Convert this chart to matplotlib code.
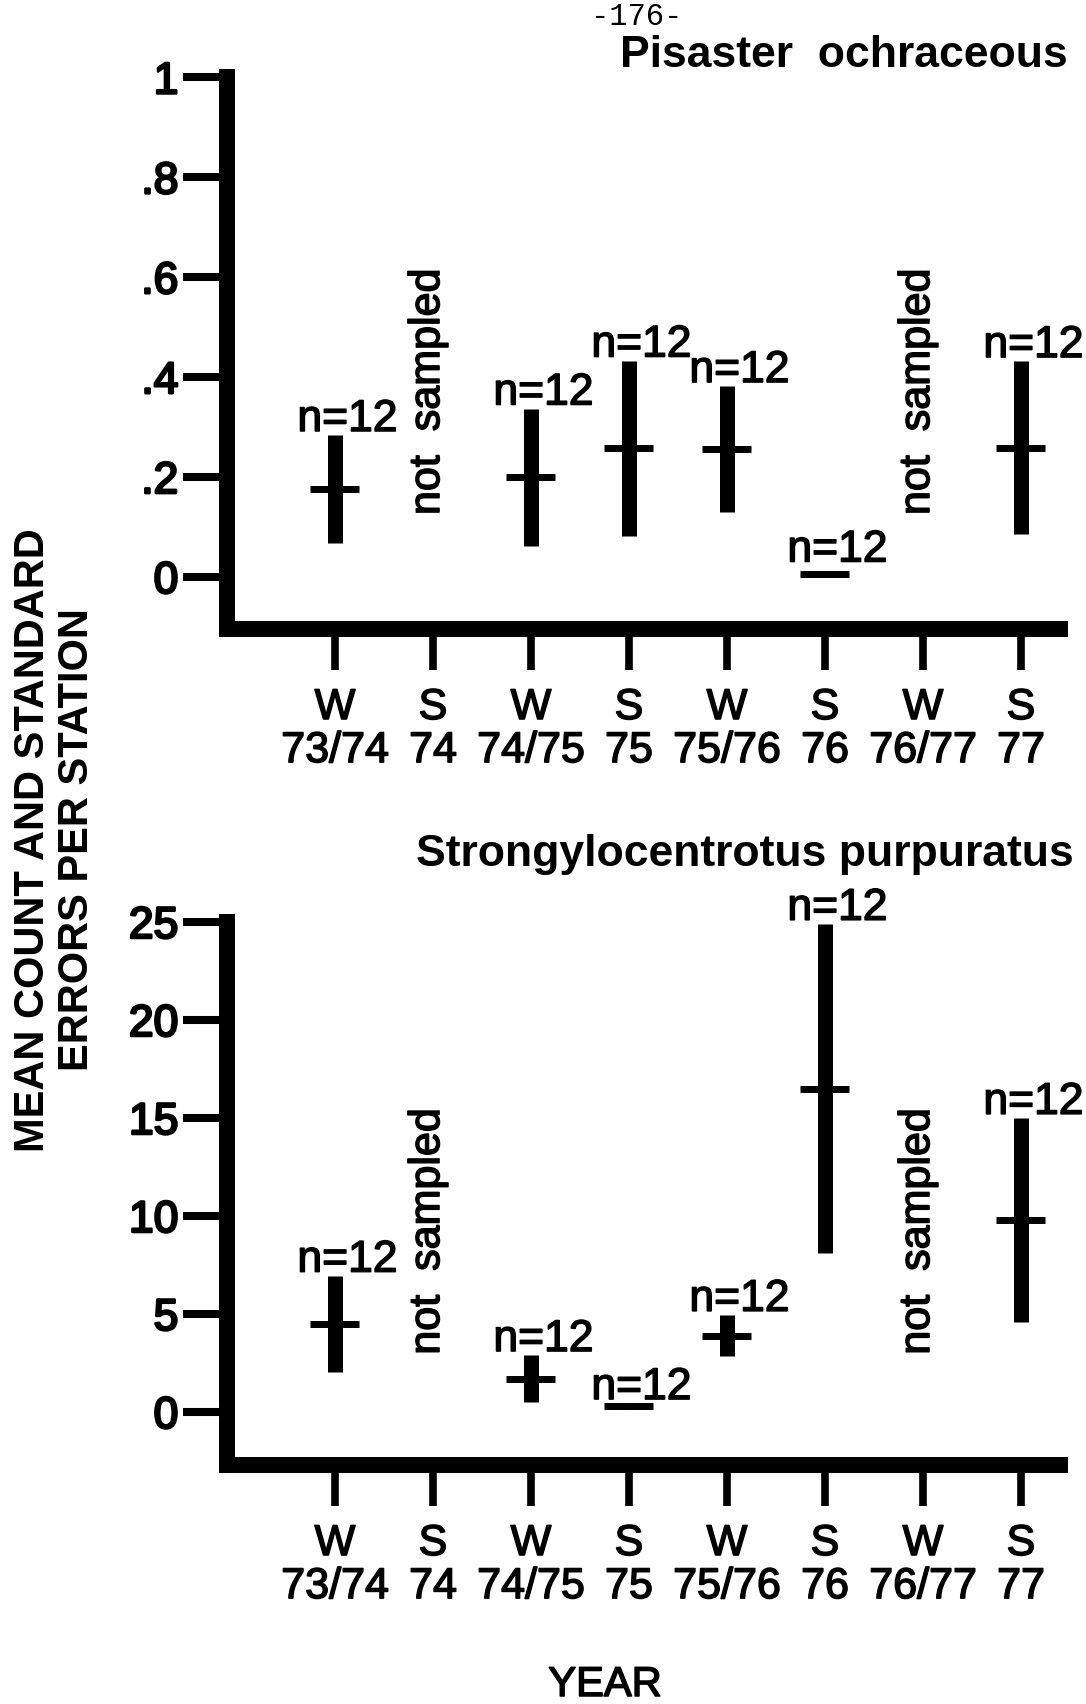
import numpy as np
import matplotlib
matplotlib.use("Agg")
import matplotlib.pyplot as plt
import matplotlib.patheffects as pe
from matplotlib.transforms import blended_transform_factory

plt.rcParams['font.family'] = ['Liberation Sans', 'DejaVu Sans']

# Sampling periods (winter / summer)
categories = ["W\n73/74", "S\n74", "W\n74/75", "S\n75", "W\n75/76", "S\n76", "W\n76/77", "S\n77"]
sampled = [True, False, True, True, True, True, False, True]
n_stations = [12, 0, 12, 12, 12, 12, 0, 12]

# Pisaster ochraceous: mean count and standard error per station
pisaster_mean = [0.176, np.nan, 0.200, 0.258, 0.256, 0.006, np.nan, 0.259]
pisaster_se = [0.108, np.nan, 0.137, 0.175, 0.126, 0.0, np.nan, 0.173]
pisaster_ticks = [0, 0.2, 0.4, 0.6, 0.8, 1]
pisaster_ticklabels = ["0", ".2", ".4", ".6", ".8", "1"]

# Strongylocentrotus purpuratus: mean count and standard error per station
urchin_mean = [4.5, np.nan, 1.7, 0.3, 3.9, 16.5, np.nan, 9.8]
urchin_se = [2.45, np.nan, 1.2, 0.15, 1.05, 8.4, np.nan, 5.2]
urchin_ticks = [0, 5, 10, 15, 20, 25]
urchin_ticklabels = ["0", "5", "10", "15", "20", "25"]

# Slightly heavier strokes for the lettering
heavy = [pe.withStroke(linewidth=1.1, foreground='black')]

FW, FH = 1086, 1704
fig = plt.figure(figsize=(FW / 100, FH / 100), dpi=100)

left, width = 0.2090, 0.7672
ax_top = fig.add_axes([left, 0.63087, width, 0.32365])
ax_bot = fig.add_axes([left, 0.14026, width, 0.31866])


def draw_panel(ax, means, ses, ticks, ticklabels, ylim):
    x = np.arange(len(categories))
    ax.set_xlim(-1.102, 7.40)
    ax.set_ylim(*ylim)
    blend = blended_transform_factory(ax.transData, ax.transAxes)
    for i in x:
        if not sampled[i]:
            ax.text(i - 0.05, 0.43, "not  sampled", rotation=90, transform=blend,
                    ha='center', va='center', fontsize=31, path_effects=heavy)
            continue
        m, s = means[i], ses[i]
        if s > 0:
            ax.vlines(i, m - s, m + s, lw=10.8, color='black', capstyle='butt')
        ax.hlines(m, i - 0.25, i + 0.25, lw=5, color='black', capstyle='butt')
        # label sits just above the error bar, or clear of a lone mean mark
        dy = 3 if s > 0 else 9
        ax.annotate(f"n={n_stations[i]}", (i, m + s), xytext=(9, dy),
                    textcoords='offset points', ha='center', va='baseline',
                    fontsize=32, path_effects=heavy)

    for side in ('top', 'right'):
        ax.spines[side].set_visible(False)
    for side in ('left', 'bottom'):
        ax.spines[side].set_linewidth(11.5)
        ax.spines[side].set_capstyle('projecting')

    ax.set_yticks(ticks, ticklabels)
    ax.tick_params(axis='y', direction='out', length=32, width=5.8, pad=3,
                   labelsize=32)
    ax.set_xticks(x, categories)
    ax.tick_params(axis='x', direction='out', length=29.5, width=5.5, pad=13,
                   labelsize=31)
    for lab in ax.get_xticklabels():
        lab.set_linespacing(1.1)
        lab.set_path_effects(heavy)
    for lab in ax.get_yticklabels():
        lab.set_path_effects([pe.withStroke(linewidth=1.8, foreground='black')])


draw_panel(ax_top, pisaster_mean, pisaster_se, pisaster_ticks,
           pisaster_ticklabels, (-0.104, 1.0))
draw_panel(ax_bot, urchin_mean, urchin_se, urchin_ticks,
           urchin_ticklabels, (-2.70, 25))

fig.text(637 / FW, 1 - 25 / FH, "-176-", family='Liberation Mono',
         fontsize=22, ha='center', va='baseline')
fig.text(1068 / FW, 1 - 67 / FH, "Pisaster  ochraceous", fontsize=32,
         fontweight='bold', ha='right', va='baseline')
fig.text(1074 / FW, 1 - 866 / FH, "Strongylocentrotus purpuratus", fontsize=32,
         fontweight='bold', ha='right', va='baseline')
fig.text(55 / FW, 1 - 840 / FH, "MEAN COUNT AND STANDARD\nERRORS PER STATION",
         rotation=90, ha='center', va='center', multialignment='center',
         fontsize=30, fontweight='bold', linespacing=1.12)
fig.text(605 / FW, 1 - 1685 / FH, "YEAR", fontsize=30, ha='center', va='center',
         path_effects=heavy)

fig.savefig("out.png", dpi=100, facecolor='white')
